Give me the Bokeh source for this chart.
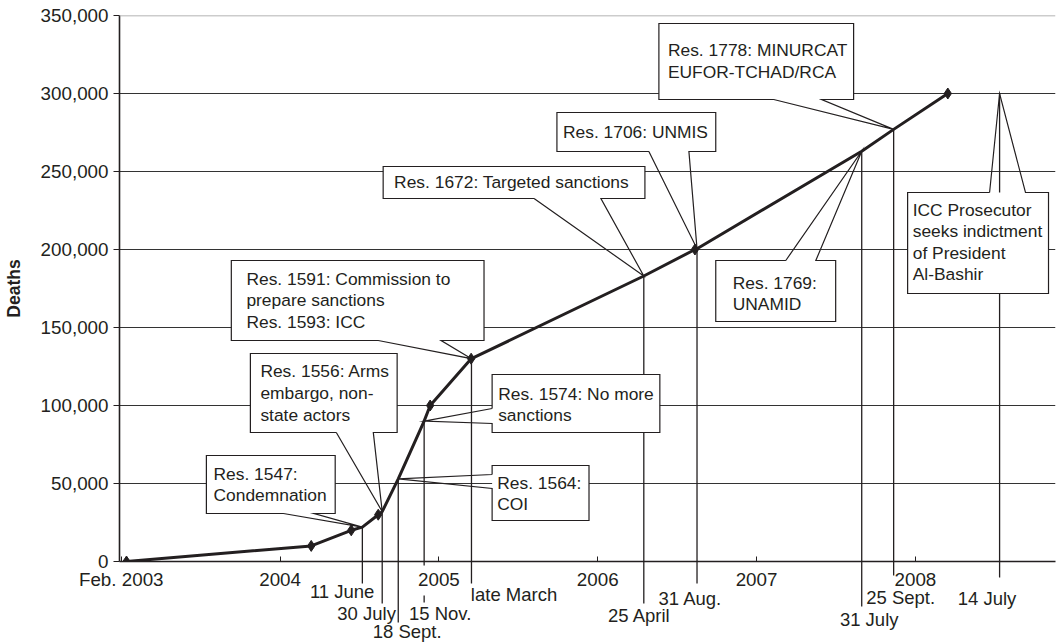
from bokeh.plotting import figure
from bokeh.models import FixedTicker, NumeralTickFormatter, Span
from bokeh.core.properties import value
from bokeh.embed import file_html
from bokeh.resources import INLINE

FONT = "Liberation Sans"
INK = "#231f20"

# ---------------- data ----------------
# cumulative deaths (diamond markers), x in fractional years
point_years = [2003.033, 2004.196, 2004.448, 2004.618, 2004.945, 2005.203, 2006.612, 2008.204]
point_deaths = [0, 10000, 20000, 30000, 100000, 130000, 200000, 300000]

# Security Council / ICC events: date label, position, deaths level at the event
event_labels = ["11 June", "30 July", "18 Sept.", "15 Nov.", "late March",
                "25 April", "31 Aug.", "31 July", "25 Sept.", "14 July"]
event_years = [2004.518, 2004.643, 2004.744, 2004.907, 2005.205,
               2006.290, 2006.625, 2007.662, 2007.863, 2008.530]
event_deaths = [22000, 32000, 53000, 90000, 130000,
                183000, 200500, 263000, 277000, 300000]
event_on_curve = [True, True, True, True, True, True, True, True, True, False]

event_texts = [
    ["Res. 1547:", "Condemnation"],
    ["Res. 1556: Arms", "embargo, non-", "state actors"],
    ["Res. 1564:", "COI"],
    ["Res. 1574: No more", "sanctions"],
    ["Res. 1591: Commission to", "prepare sanctions", "Res. 1593: ICC"],
    ["Res. 1672: Targeted sanctions"],
    ["Res. 1706: UNMIS"],
    ["Res. 1769:", "UNAMID"],
    ["Res. 1778: MINURCAT", "EUFOR-TCHAD/RCA"],
    ["ICC Prosecutor", "seeks indictment", "of President", "Al-Bashir"],
]

xtick_values = [2003, 2004, 2005, 2006, 2007, 2008]
xtick_labels = ["Feb. 2003", "2004", "2005", "2006", "2007", "2008"]
ytick_values = [0, 50000, 100000, 150000, 200000, 250000, 300000, 350000]

# ---------------- layout (annotation placement) ----------------
# callout box (left, right, top, bottom), side of the pointer, pointer base, text anchor
CALLOUT_LAYOUT = [
    dict(box=(2003.536, 2004.347, 67949, 30769), side="bottom", base=(2004.021, 2004.215), text=(2003.581, 56410)),
    dict(box=(2003.813, 2004.737, 133333, 82692), side="bottom", base=(2004.354, 2004.587), text=(2003.876, 121795)),
    dict(box=(2005.335, 2005.945, 61538, 26282), side="left", base=(55769, 46795), text=(2005.367, 50641)),
    dict(box=(2005.335, 2006.391, 119872, 82692), side="left", base=(98077, 88462), text=(2005.373, 107692)),
    dict(box=(2003.693, 2005.284, 192949, 141667), side="bottom", base=(2004.618, 2005.014), text=(2003.788, 181410)),
    dict(box=(2004.649, 2006.297, 253205, 232692), side="bottom", base=(2005.599, 2006.020), text=(2004.718, 242949)),
    dict(box=(2005.743, 2006.743, 287821, 262821), side="bottom", base=(2006.322, 2006.574), text=(2005.781, 275641)),
    dict(box=(2006.743, 2007.498, 192949, 153846), side="top", base=(2007.184, 2007.373), text=(2006.850, 178846)),
    dict(box=(2006.385, 2007.611, 344874, 296156), side="bottom", base=(2007.108, 2007.410), text=(2006.442, 327566)),
    dict(box=(2007.951, 2008.838, 236538, 171795), side="top", base=(2008.467, 2008.693), text=(2007.983, 225641)),
]
LINE_STEP = 21.6  # px between text lines

# date label centre below the axis and drop-line pieces below the axis
DATE_LAYOUT = [
    ((2004.391, -19231), [(0, -14103)]),
    ((2004.545, -33333), [(0, -26923)]),
    ((2004.800, -44872), [(0, -39103)]),
    ((2005.008, -33333), [(0, -2564), (-21795, -26282)]),
    ((2005.473, -21154), [(0, -14103)]),
    ((2006.262, -34615), [(0, -26923)]),
    ((2006.583, -23718), [(0, -14103)]),
    ((2007.709, -37179), [(0, -28846)]),
    ((2007.907, -23077), [(0, -8974)]),
    ((2008.451, -23718), [(0, -10256)]),
]

# ---------------- figure ----------------
p = figure(width=1057, height=642, x_range=(2002.989, 2008.882), y_range=(0, 350000),
           output_backend="svg", toolbar_location=None,
           min_border_left=118, min_border_right=2, min_border_top=15, min_border_bottom=81)
p.outline_line_color = None
p.background_fill_color = "white"
p.border_fill_color = "white"
p.xgrid.visible = False

p.ygrid.ticker = FixedTicker(ticks=ytick_values[1:-1])
p.ygrid.grid_line_color = "#333333"
p.ygrid.grid_line_width = 1
p.add_layout(Span(location=ytick_values[-1], dimension="width", line_color="#9a9a9a", line_width=1.5))

yax = p.yaxis[0]
yax.ticker = FixedTicker(ticks=ytick_values)
yax.formatter = NumeralTickFormatter(format="0,0")
yax.axis_label = "Deaths"
yax.axis_label_text_font = FONT
yax.axis_label_text_font_style = "bold"
yax.axis_label_text_font_size = "17.5px"
yax.axis_label_text_color = INK
yax.axis_label_standoff = 14
yax.major_label_text_font = FONT
yax.major_label_text_font_size = "18.8px"
yax.major_label_text_color = INK
yax.major_label_standoff = 5
yax.major_tick_out = 6
yax.major_tick_in = 0
yax.minor_tick_out = 0
yax.minor_tick_in = 0
yax.axis_line_color = INK
yax.axis_line_width = 1.6
yax.major_tick_line_color = INK

xax = p.xaxis[0]
xax.ticker = FixedTicker(ticks=xtick_values)
xax.major_label_overrides = dict(zip(xtick_values, xtick_labels))
xax.major_label_text_font = FONT
xax.major_label_text_font_size = "18.8px"
xax.major_label_text_color = INK
xax.major_label_standoff = 7
xax.major_tick_in = 5
xax.major_tick_out = 0
xax.minor_tick_in = 0
xax.minor_tick_out = 0
xax.axis_line_color = INK
xax.axis_line_width = 1.6
xax.major_tick_line_color = INK

# drop lines from the events down to the axis
p.segment(x0=event_years, y0=event_deaths, x1=event_years, y1=[0] * len(event_years),
          line_color=INK, line_width=1.3)

# drop lines continuing below the axis to the date labels
bx0, by0, bx1, by1 = [], [], [], []
for ex, (_, pieces) in zip(event_years, DATE_LAYOUT):
    for (a, b) in pieces:
        bx0.append(ex); by0.append(a); bx1.append(ex); by1.append(b)
p.segment(x0=bx0, y0=by0, x1=bx1, y1=by1, line_color=INK, line_width=1.3, level="overlay")

# date labels
p.text(x=[d[0][0] for d in DATE_LAYOUT], y=[d[0][1] for d in DATE_LAYOUT], text=event_labels,
       text_font=value(FONT), text_font_size="18.5px", text_color=INK,
       text_align="center", text_baseline="middle", level="overlay")

# the deaths curve through the markers and event points
curve = sorted(list(zip(point_years, point_deaths)) +
               [(x, y) for x, y, on in zip(event_years, event_deaths, event_on_curve) if on])
p.line([c[0] for c in curve], [c[1] for c in curve], line_color=INK, line_width=3, line_join="round")
p.scatter(point_years, point_deaths, marker="diamond", size=11, color=INK)

# callouts
L_, R_, T_, B_ = [], [], [], []
oxs, oys = [], []
for lay, ex, ey in zip(CALLOUT_LAYOUT, event_years, event_deaths):
    L, R, T, B = lay["box"]
    a, b = lay["base"]
    L_.append(L); R_.append(R); T_.append(T); B_.append(B)
    if lay["side"] == "bottom":
        pts = [(a, B), (L, B), (L, T), (R, T), (R, B), (b, B), (ex, ey), (a, B)]
    elif lay["side"] == "top":
        pts = [(a, T), (L, T), (L, B), (R, B), (R, T), (b, T), (ex, ey), (a, T)]
    else:  # left, base given as (upper y, lower y)
        pts = [(L, a), (L, T), (R, T), (R, B), (L, B), (L, b), (ex, ey), (L, a)]
    oxs.append([q[0] for q in pts]); oys.append([q[1] for q in pts])

p.quad(left=L_, right=R_, top=T_, bottom=B_, fill_color="white", line_color=None)
p.multi_line(oxs, oys, line_color=INK, line_width=1.2, line_join="miter")

tx, ty, tt, toff = [], [], [], []
for lay, lines in zip(CALLOUT_LAYOUT, event_texts):
    for i, s in enumerate(lines):
        tx.append(lay["text"][0]); ty.append(lay["text"][1]); tt.append(s); toff.append(i * LINE_STEP)
p.text(x=tx, y=ty, text=tt, y_offset=toff, text_font=value(FONT), text_font_size="17.4px",
       text_color=INK, text_align="left", text_baseline="middle")

open("out.html", "w").write(file_html(p, INLINE))
